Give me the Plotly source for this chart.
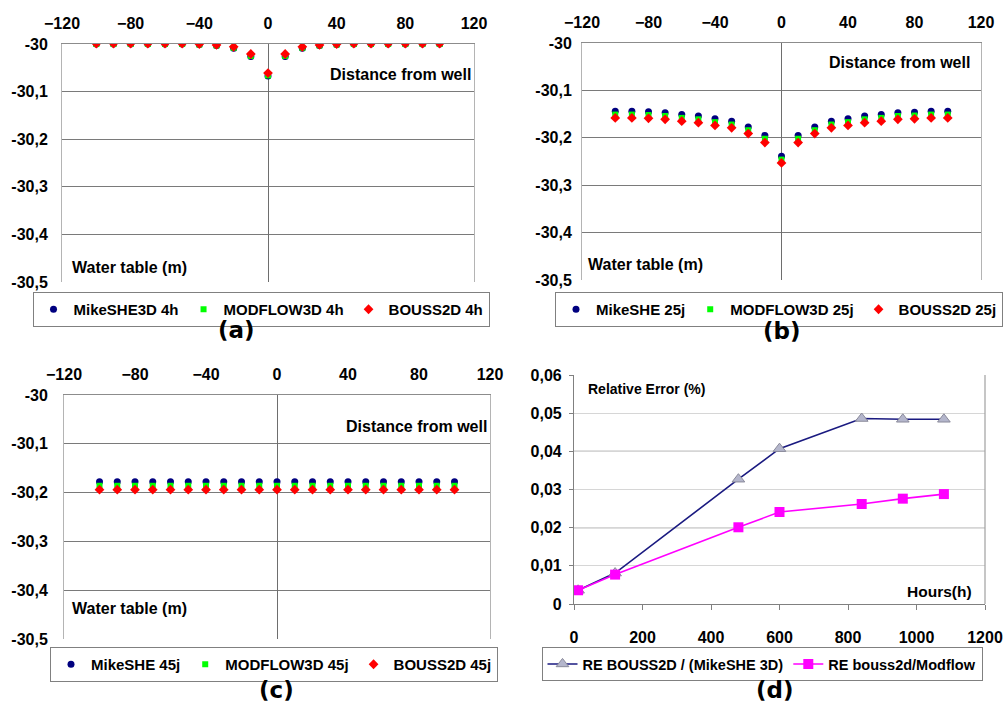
import plotly.graph_objects as go

# ---- data -------------------------------------------------------------
distance = [-100, -90, -80, -70, -60, -50, -40, -30, -20, -10, 0,
            10, 20, 30, 40, 50, 60, 70, 80, 90, 100]

# (a) water table after 4 h
mikeshe_4h = [-30.000, -30.000, -30.000, -30.000, -30.000, -30.000, -30.001,
              -30.003, -30.009, -30.026, -30.067, -30.026, -30.009, -30.003,
              -30.001, -30.000, -30.000, -30.000, -30.000, -30.000, -30.000]
modflow_4h = [-30.000, -30.000, -30.000, -30.000, -30.000, -30.000, -30.001,
              -30.003, -30.008, -30.025, -30.066, -30.025, -30.008, -30.003,
              -30.001, -30.000, -30.000, -30.000, -30.000, -30.000, -30.000]
bouss_4h = [-29.999, -29.999, -29.999, -29.999, -29.999, -29.999, -30.000,
            -30.002, -30.006, -30.021, -30.061, -30.021, -30.006, -30.002,
            -30.000, -29.999, -29.999, -29.999, -29.999, -29.999, -29.999]

# (b) water table after 25 days
mikeshe_25j = [-30.144, -30.144, -30.145, -30.147, -30.151, -30.154, -30.160,
               -30.165, -30.177, -30.195, -30.239, -30.195, -30.177, -30.165,
               -30.160, -30.154, -30.151, -30.147, -30.146, -30.144, -30.144]
modflow_25j = [-30.151, -30.151, -30.152, -30.154, -30.158, -30.161, -30.167,
               -30.172, -30.184, -30.202, -30.246, -30.202, -30.184, -30.172,
               -30.167, -30.161, -30.158, -30.154, -30.153, -30.151, -30.151]
bouss_25j = [-30.158, -30.158, -30.159, -30.161, -30.165, -30.168, -30.174,
             -30.179, -30.191, -30.210, -30.253, -30.210, -30.191, -30.179,
             -30.174, -30.168, -30.165, -30.161, -30.160, -30.158, -30.158]

# (c) water table after 45 days
mikeshe_45j = [-30.178] * 21
modflow_45j = [-30.186] * 21
bouss_45j = [-30.194] * 21

# (d) relative error versus time
hours = [12, 120, 480, 600, 840, 960, 1080]
re_bouss_mikeshe = [0.0036, 0.0081, 0.0327, 0.0407, 0.0486, 0.0484, 0.0484]
re_bouss_modflow = [0.0036, 0.0077, 0.0201, 0.0241, 0.0262, 0.0276, 0.0288]

# tick labels
dist_ticks = [-120, -80, -40, 0, 40, 80, 120]
wt_ticks = [-30, -30.1, -30.2, -30.3, -30.4, -30.5]
wt_labels = ["-30", "-30,1", "-30,2", "-30,3", "-30,4", "-30,5"]
hour_ticks = [0, 200, 400, 600, 800, 1000, 1200]
re_ticks = [0, 0.01, 0.02, 0.03, 0.04, 0.05, 0.06]
re_labels = ["0", "0,01", "0,02", "0,03", "0,04", "0,05", "0,06"]

# ---- styling ----------------------------------------------------------
W, H = 1003, 707
FONT = "Liberation Sans, Arial, sans-serif"
NAVY = "#00007f"
GREEN = "#00ff00"
RED = "#ff0000"
GRID = "#7a7a7a"
FRAME = "#b4b4b4"


def px_x(a, b):
    return [a / W, b / W]


def px_y(top, bottom):
    return [1 - bottom / H, 1 - top / H]


fig = go.Figure()

panels = [
    ("1", (mikeshe_4h, modflow_4h, bouss_4h),
     ("MikeSHE3D 4h", "MODFLOW3D 4h", "BOUSS2D 4h"), "legend"),
    ("2", (mikeshe_25j, modflow_25j, bouss_25j),
     ("MikeSHE 25j", "MODFLOW3D 25j", "BOUSS2D 25j"), "legend2"),
    ("3", (mikeshe_45j, modflow_45j, bouss_45j),
     ("MikeSHE 45j", "MODFLOW3D 45j", "BOUSS2D 45j"), "legend3"),
]
symbols = [("circle", NAVY, 7), ("square", GREEN, 6), ("diamond", RED, 7.5)]

for idx, series, names, leg in panels:
    xa = "x" if idx == "1" else "x" + idx
    ya = "y" if idx == "1" else "y" + idx
    for vals, name, (sym, col, size) in zip(series, names, symbols):
        fig.add_trace(go.Scatter(
            x=distance, y=vals, mode="markers", name=name,
            marker=dict(symbol=sym, color=col, size=size, line=dict(width=0)),
            xaxis=xa, yaxis=ya, legend=leg, showlegend=True))

fig.add_trace(go.Scatter(
    x=hours, y=re_bouss_mikeshe, mode="lines+markers",
    name="RE BOUSS2D / (MikeSHE 3D)",
    line=dict(color="#1a1a80", width=1.6),
    marker=dict(symbol="triangle-up", size=11, color="#b4b6cc",
                line=dict(color="#8a8a9a", width=1)),
    xaxis="x4", yaxis="y4", legend="legend4"))
fig.add_trace(go.Scatter(
    x=hours, y=re_bouss_modflow, mode="lines+markers",
    name="RE bouss2d/Modflow",
    line=dict(color="#ff00ff", width=1.6),
    marker=dict(symbol="square", size=10, color="#ff00ff"),
    xaxis="x4", yaxis="y4", legend="legend4"))

tickfont = dict(family=FONT, size=16, color="black", weight="bold")

# water-table panels: (left, right, top, bottom) in pixels
wt_boxes = {"1": (62, 474, 44, 282), "2": (582, 981, 43, 280),
            "3": (64, 490, 395, 639)}
wt_standoff = {"1": 10, "2": 6, "3": 12}
layout_axes = {}
for idx, (l, r, t, b) in wt_boxes.items():
    xkey = "xaxis" if idx == "1" else "xaxis" + idx
    ykey = "yaxis" if idx == "1" else "yaxis" + idx
    yref = "y" if idx == "1" else "y" + idx
    xref = "x" if idx == "1" else "x" + idx
    layout_axes[xkey] = dict(
        domain=px_x(l, r), anchor=yref, side="top", range=[-120, 120],
        tickmode="array", tickvals=dist_ticks, tickfont=tickfont,
        ticklabelstandoff=8, showgrid=False, zeroline=True,
        zerolinecolor="#6e6e6e", zerolinewidth=1.2, showline=True,
        linecolor="#8c8c8c", linewidth=1.2, mirror=False, ticks="",
        automargin=False)
    layout_axes[ykey] = dict(
        domain=px_y(t, b), anchor=xref, range=[-30.5, -30],
        tickmode="array", tickvals=wt_ticks, ticktext=wt_labels,
        tickfont=tickfont, ticklabelstandoff=wt_standoff[idx],
        showgrid=False, zeroline=False, showline=True,
        linecolor=FRAME, linewidth=1, mirror=True, ticks="",
        automargin=False,
        minor=dict(tickvals=wt_ticks[1:-1], showgrid=True,
                   gridcolor=GRID, gridwidth=1.2, ticks=""))

layout_axes["xaxis4"] = dict(
    domain=px_x(574, 985), anchor="y4", range=[0, 1200],
    tickmode="array", tickvals=hour_ticks, tickfont=tickfont,
    ticklabelstandoff=14, showgrid=False, zeroline=False, showline=True,
    linecolor="#808080", linewidth=1.2, ticks="outside", ticklen=5,
    tickcolor="#808080", automargin=False)
layout_axes["yaxis4"] = dict(
    domain=px_y(375, 604), anchor="x4", range=[0, 0.06],
    tickmode="array", tickvals=re_ticks, ticktext=re_labels,
    tickfont=tickfont, ticklabelstandoff=4, showgrid=True,
    gridcolor="#d6d6d6", gridwidth=1.2, zeroline=False, showline=True,
    linecolor="#808080", linewidth=1.2, ticks="outside", ticklen=4,
    tickcolor="#808080", automargin=False)

shapes = [
    dict(type="line", xref="x4 domain", yref="y4", x0=0, x1=1, y0=v, y1=v,
         line=dict(color="#808080", width=1.2), layer="below")
    for v in (0.02, 0.04)
]
shapes.append(dict(type="line", xref="x4 domain", yref="y4 domain",
                   x0=1, x1=1, y0=0, y1=1,
                   line=dict(color="#a0a0a0", width=1.2)))

annotations = []


def note(text, x, y, size=16, xanchor="left", family=FONT):
    annotations.append(dict(
        text="<b>%s</b>" % text, x=x / W, y=1 - y / H, xref="paper",
        yref="paper", xanchor=xanchor, yanchor="middle", showarrow=False,
        font=dict(family=family, size=size, color="black")))


note("Distance from well", 473, 74, xanchor="right")
note("Distance from well", 972, 62, xanchor="right")
note("Distance from well", 489, 426, xanchor="right")
note("Water table (m)", 70, 267)
note("Water table (m)", 586, 264)
note("Water table (m)", 70, 608)
note("Relative Error (%)", 586, 389, size=14)
note("Hours(h)", 974, 591, size=15.5, xanchor="right")
LBL = "DejaVu Sans, Liberation Sans, sans-serif"
note("(a)", 236, 330, size=23, xanchor="center", family=LBL)
note("(b)", 782, 331, size=23, xanchor="center", family=LBL)
note("(c)", 276, 690, size=23, xanchor="center", family=LBL)
note("(d)", 775, 690, size=23, xanchor="center", family=LBL)


def legend_box(xc, ytop, size=15):
    return dict(x=xc / W, y=1 - ytop / H, xanchor="center", yanchor="top",
                orientation="h", bgcolor="white", bordercolor="#808080",
                borderwidth=1, itemwidth=30, tracegroupgap=0,
                font=dict(family=FONT, size=size, color="black",
                          weight="bold"))


fig.update_layout(
    width=W, height=H,
    margin=dict(l=0, r=0, t=0, b=0, pad=0, autoexpand=False),
    plot_bgcolor="white", paper_bgcolor="white",
    font=dict(family=FONT, color="black"),
    legend=legend_box(261, 292),
    legend2=legend_box(779, 292),
    legend3=legend_box(274, 647),
    legend4=legend_box(762, 647, size=14.5),
    shapes=shapes, annotations=annotations,
    **layout_axes)

fig.write_html("out.html")
